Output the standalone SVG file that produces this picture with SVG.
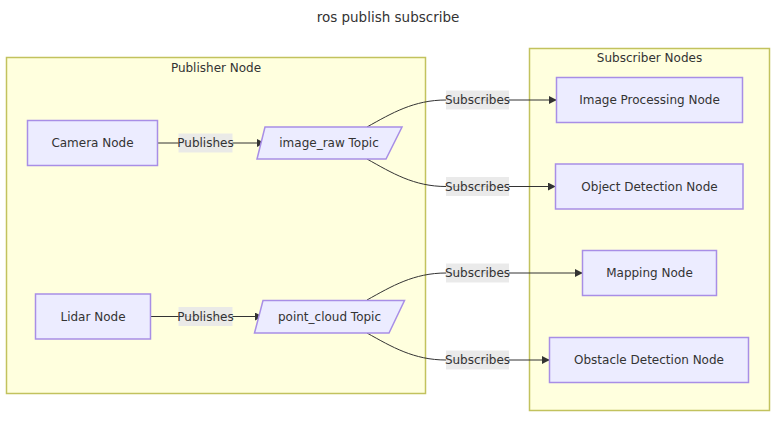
<svg xmlns="http://www.w3.org/2000/svg" width="784" height="423" viewBox="0 0 784 423">
<defs>
<marker id="arr" viewBox="0 0 10 10" refX="9" refY="5" markerWidth="8" markerHeight="8" markerUnits="userSpaceOnUse" orient="auto">
<path d="M0,0 L10,5 L0,10 z" fill="#333"/>
</marker>
<style>
text{font-family:"DejaVu Sans",Verdana,sans-serif;fill:#333;text-anchor:middle;dominant-baseline:central;font-size:12px}
.cl{fill:#ffffde;stroke:#c2c25e;stroke-width:1.5}
.nd{fill:#ececff;stroke:#a88ee6;stroke-width:1.5}
.ln{fill:none;stroke:#333;stroke-width:1}
.lb{fill:#e8e8e8;opacity:0.9}
.title{font-size:13.5px}
</style>
</defs>
<rect width="784" height="423" fill="#fff"/>
<text class="title" x="388" y="17">ros publish subscribe</text>
<g id="publisher-cluster">
<rect class="cl" x="6.5" y="57.5" width="419" height="336"/>
<text x="216" y="67.5">Publisher Node</text>
</g>
<g id="subscriber-cluster">
<rect class="cl" x="529.5" y="48.5" width="240" height="362"/>
<text x="649.5" y="57.5">Subscriber Nodes</text>
</g>
<g id="connectors">
<path class="ln" d="M157.5,143 L264,143" marker-end="url(#arr)"/>
<path class="ln" d="M150.5,316.5 L262,316.5" marker-end="url(#arr)"/>
<path class="ln" d="M367,127 C392,113 414,100 446,100 L556,100" marker-end="url(#arr)"/>
<path class="ln" d="M367,159 C392,173 414,186.5 446,186.5 L555,186.5" marker-end="url(#arr)"/>
<path class="ln" d="M367,300 C392,286 414,273 446,273 L582,273" marker-end="url(#arr)"/>
<path class="ln" d="M367,333 C392,347 414,360 446,360 L549,360" marker-end="url(#arr)"/>
<rect class="lb" x="178.5" y="133.5" width="54" height="19"/>
<text x="205.5" y="143">Publishes</text>
<rect class="lb" x="178.5" y="307" width="54" height="19"/>
<text x="205.5" y="316.5">Publishes</text>
<rect class="lb" x="446" y="90.5" width="63" height="19"/>
<text x="477.5" y="100">Subscribes</text>
<rect class="lb" x="446" y="177" width="63" height="19"/>
<text x="477.5" y="186.5">Subscribes</text>
<rect class="lb" x="446" y="263.5" width="63" height="19"/>
<text x="477.5" y="273">Subscribes</text>
<rect class="lb" x="446" y="350.5" width="63" height="19"/>
<text x="477.5" y="360">Subscribes</text>
</g>
<g id="camera-node">
<rect class="nd" x="27.5" y="120.5" width="130" height="45"/>
<text x="92.5" y="143">Camera Node</text>
</g>
<g id="lidar-node">
<rect class="nd" x="35.5" y="294" width="115" height="45"/>
<text x="93" y="316.5">Lidar Node</text>
</g>
<g id="image-raw-topic">
<polygon class="nd" points="265,127 402,127 386,159 257,159"/>
<text x="329" y="143">image_raw Topic</text>
</g>
<g id="point-cloud-topic">
<polygon class="nd" points="263,300.5 404.5,300.5 389,333 254.5,333"/>
<text x="329.5" y="316.5">point_cloud Topic</text>
</g>
<g id="image-processing-node">
<rect class="nd" x="556.5" y="77.5" width="186" height="45"/>
<text x="649.5" y="100">Image Processing Node</text>
</g>
<g id="object-detection-node">
<rect class="nd" x="555.5" y="164" width="187.5" height="45"/>
<text x="649.5" y="186.5">Object Detection Node</text>
</g>
<g id="mapping-node">
<rect class="nd" x="582.5" y="250.5" width="134" height="45"/>
<text x="649.5" y="273">Mapping Node</text>
</g>
<g id="obstacle-detection-node">
<rect class="nd" x="549.5" y="337.5" width="199" height="45"/>
<text x="649" y="360">Obstacle Detection Node</text>
</g>
</svg>
